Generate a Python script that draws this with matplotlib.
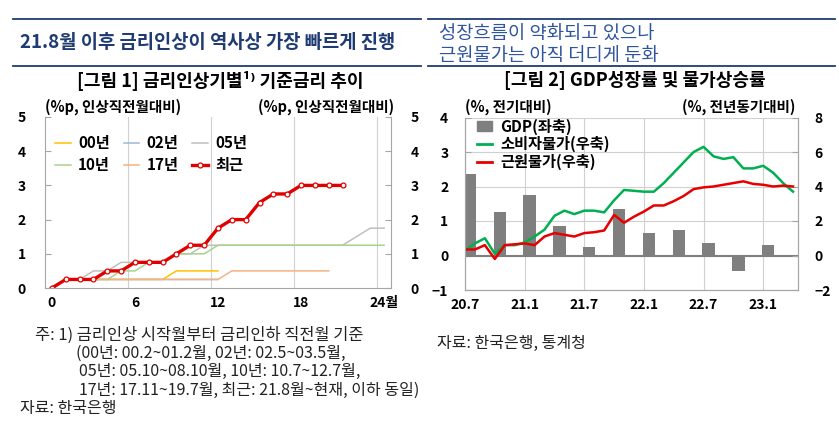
import matplotlib
matplotlib.use('Agg')
import matplotlib.pyplot as plt
from matplotlib.lines import Line2D
from matplotlib.patches import Patch

plt.rcParams['font.family'] = ['Noto Sans CJK KR', 'DejaVu Sans']

# ---- left chart data (months since hike start, %p vs month before hike) ----
m00 = [0, 1, 2, 3, 4, 5, 6, 7, 8, 9, 10, 11, 12]
r00 = [0, .25, .25, .25, .25, .25, .25, .25, .25, .5, .5, .5, .5]
m02 = [0, 1, 2, 3, 4, 5, 6, 7, 8, 9, 10, 11, 12]
r02 = [0, .25, .25, .25, .25, .25, .25, .25, .25, .25, .25, .25, .25]
m05 = list(range(25))
r05 = [0, .25, .25, .5, .5, .75, .75, .75, .75, 1.0, 1.0, 1.25, 1.25, 1.25,
       1.25, 1.25, 1.25, 1.25, 1.25, 1.25, 1.25, 1.25, 1.5, 1.75, 1.75]
m10 = list(range(25))
r10 = [0, .25, .25, .25, .25, .5, .5, .75, .75, 1.0, 1.0, 1.0, 1.25, 1.25,
       1.25, 1.25, 1.25, 1.25, 1.25, 1.25, 1.25, 1.25, 1.25, 1.25, 1.25]
m17 = list(range(21))
r17 = [0, .25, .25, .25, .25, .25, .25, .25, .25, .25, .25, .25, .25, .5,
       .5, .5, .5, .5, .5, .5, .5]
m_now = list(range(22))
r_now = [0, .25, .25, .25, .5, .5, .75, .75, .75, 1.0, 1.25, 1.25, 1.75, 2.0,
         2.0, 2.5, 2.75, 2.75, 3.0, 3.0, 3.0, 3.0]
left_xticks = [0, 6, 12, 18, 24]
left_xlabels = ['0', '6', '12', '18', '24월']

# ---- right chart data (month index, 0 = 20.7) ----
gdp_pos = [0.5, 3.5, 6.5, 9.5, 12.5, 15.5, 18.5, 21.5, 24.5, 27.5, 30.5]
gdp = [2.35, 1.25, 1.75, 0.85, 0.25, 1.35, 0.65, 0.75, 0.35, -0.45, 0.3]
cpi_m = list(range(34))
cpi = [0.3, 0.7, 1.0, 0.1, 0.6, 0.6, 0.75, 1.1, 1.5, 2.3, 2.6, 2.4, 2.6, 2.6,
       2.5, 3.2, 3.8, 3.75, 3.7, 3.7, 4.2, 4.8, 5.4, 6.0, 6.3, 5.75, 5.6, 5.7,
       5.05, 5.05, 5.2, 4.8, 4.2, 3.7]
core = [0.35, 0.35, 0.6, -0.2, 0.6, 0.65, 0.7, 0.6, 1.1, 1.3, 1.2, 1.1, 1.3,
        1.35, 1.45, 2.35, 1.9, 2.25, 2.55, 2.9, 2.9, 3.15, 3.45, 3.85, 3.95,
        4.0, 4.1, 4.2, 4.3, 4.15, 4.1, 4.0, 4.05, 4.0]
right_xticks = [0, 6, 12, 18, 24, 30]
right_xlabels = ['20.7', '21.1', '21.7', '22.1', '22.7', '23.1']

navy = '#1F3B73'
grid_c = '#D0D0D0'
spine_c = '#A6A6A6'
note_c = '#222222'

fig = plt.figure(figsize=(8.39, 4.38), dpi=100)

# header lines and titles
for y in [1 - 19 / 438, 1 - 66 / 438]:
    fig.add_artist(Line2D([13 / 839, 421 / 839], [y, y], color=navy, lw=1.3))
    fig.add_artist(Line2D([428 / 839, 835 / 839], [y, y], color=navy, lw=1.3))
fig.text(20 / 839, 1 - 43 / 438, '21.8월 이후 금리인상이 역사상 가장 빠르게 진행',
         color=navy, fontsize=13.5, fontweight='bold', va='center')
fig.text(439 / 839, 1 - 34 / 438, '성장흐름이 약화되고 있으나', color='#2F55A0',
         fontsize=13.5, va='center')
fig.text(439 / 839, 1 - 55 / 438, '근원물가는 아직 더디게 둔화', color='#2F55A0',
         fontsize=13.5, va='center')
fig.text(220 / 839, 1 - 81 / 438, '[그림 1] 금리인상기별¹⁾ 기준금리 추이',
         fontsize=13, fontweight='bold', ha='center', va='center')
fig.text(635 / 839, 1 - 81 / 438, '[그림 2] GDP성장률 및 물가상승률',
         fontsize=13, fontweight='bold', ha='center', va='center')

# ---------------- left chart ----------------
ax = fig.add_axes([45 / 839, 1 - 288 / 438, 346 / 839, 171 / 438])
ax.plot(m00, r00, color='#FFC000', lw=1.1, label='00년')
ax.plot(m02, r02, color='#9DB7D5', lw=1.1, label='02년')
ax.plot(m05, r05, color='#BFBFBF', lw=1.1, label='05년')
ax.plot(m10, r10, color='#A9D18E', lw=1.1, label='10년')
ax.plot(m17, r17, color='#F4B183', lw=1.1, label='17년')
ax.plot(m_now, r_now, color='#E00000', lw=2.4, marker='o', ms=3.5,
        mfc='white', mec='#E00000', mew=0.9, label='최근')
ax.set_xlim(-0.5, 24.5)
ax.set_ylim(0, 5)
ax.set_xticks(left_xticks)
ax.set_xticklabels(left_xlabels)
ax.set_xticks([5.5, 11.5, 17.5, 23.5], minor=True)
ax.grid(which='minor', axis='x', color=grid_c, lw=0.8)
ax.set_yticks([0, 1, 2, 3, 4, 5])
ax.tick_params(axis='x', which='both', length=0, pad=6)
ax.tick_params(axis='y', direction='in', length=4, color=spine_c,
               left=True, right=True, labelleft=True, labelright=True, pad=14)
for lab in ax.get_xticklabels() + ax.get_yticklabels():
    lab.set_fontweight('bold')
    lab.set_fontsize(10)
ax.spines['top'].set_visible(False)
for s in ['left', 'right', 'bottom']:
    ax.spines[s].set_color(spine_c)
h, l = ax.get_legend_handles_labels()
order = [0, 3, 1, 4, 2, 5]
ax.legend([h[i] for i in order], [l[i] for i in order], ncol=3, frameon=False,
          loc='upper left', bbox_to_anchor=(-0.01, 0.975), handlelength=1.0,
          columnspacing=0.9, handletextpad=0.5, labelspacing=0.4,
          prop={'weight': 'bold', 'size': 11})
fig.text(45 / 839, 1 - 107 / 438, '(%p, 인상직전월대비)', fontsize=10.5,
         fontweight='bold', va='center')
fig.text(394 / 839, 1 - 107 / 438, '(%p, 인상직전월대비)', fontsize=10.5,
         fontweight='bold', va='center', ha='right')

# footnotes
fig.text(35 / 839, 1 - 335 / 438, '주: 1) 금리인상 시작월부터 금리인하 직전월 기준',
         fontsize=11.8, va='center', color=note_c)
notes = ['(00년: 00.2~01.2월, 02년: 02.5~03.5월,',
         '05년: 05.10~08.10월, 10년: 10.7~12.7월,',
         '17년: 17.11~19.7월, 최근: 21.8월~현재, 이하 동일)']
for i, t in enumerate(notes):
    fig.text((76 if i == 0 else 79) / 839, 1 - (353 + 18.5 * i) / 438, t,
             fontsize=11.5, va='center', color=note_c)
fig.text(20 / 839, 1 - 408 / 438, '자료: 한국은행', fontsize=11.5, va='center',
         color=note_c)

# ---------------- right chart ----------------
ax2 = fig.add_axes([465 / 839, 1 - 290 / 438, 333 / 839, 172.5 / 438])
ax2r = ax2.twinx()
ax2.bar(gdp_pos, gdp, width=1.25, color='#7F7F7F', zorder=3)
ax2.axhline(0, color='#7F7F7F', lw=1.5, zorder=2)
ax2r.plot(cpi_m, cpi, color='#00B050', lw=1.8)
ax2r.plot(cpi_m, core, color='#E80000', lw=1.8)
ax2.set_xlim(0, 33.5)
ax2.set_ylim(-1, 4)
ax2r.set_ylim(-2, 8)
ax2.set_yticks([-1, 0, 1, 2, 3, 4])
ax2r.set_yticks([-2, 0, 2, 4, 6, 8])
ax2.set_xticks(right_xticks)
ax2.set_xticklabels(right_xlabels)
ax2.grid(True, color=grid_c, lw=0.8, zorder=0)
ax2.set_axisbelow(True)
ax2.tick_params(axis='x', length=0, pad=6)
ax2.tick_params(axis='y', direction='in', length=4, color=spine_c, pad=12)
ax2r.tick_params(axis='y', direction='in', length=4, color=spine_c, pad=12)
for a in (ax2, ax2r):
    a.spines['top'].set_visible(False)
    for s in ['left', 'right', 'bottom']:
        a.spines[s].set_color(spine_c)
    for lab in a.get_xticklabels() + a.get_yticklabels():
        lab.set_fontweight('bold')
        lab.set_fontsize(10)
handles = [Patch(color='#7F7F7F'), Line2D([], [], color='#00B050', lw=2),
           Line2D([], [], color='#E80000', lw=2)]
ax2r.legend(handles, ['GDP(좌축)', '소비자물가(우축)', '근원물가(우축)'],
            loc='upper left', bbox_to_anchor=(-0.005, 1.075), frameon=False,
            handlelength=1.0, handletextpad=0.5, labelspacing=0.1,
            prop={'weight': 'bold', 'size': 11})
fig.text(465 / 839, 1 - 107 / 438, '(%, 전기대비)', fontsize=10.5,
         fontweight='bold', va='center')
fig.text(795 / 839, 1 - 107 / 438, '(%, 전년동기대비)', fontsize=10.5,
         fontweight='bold', va='center', ha='right')
fig.text(437 / 839, 1 - 343 / 438, '자료: 한국은행, 통계청', fontsize=11.5,
         va='center', color=note_c)

fig.savefig('out.png', dpi=100)
